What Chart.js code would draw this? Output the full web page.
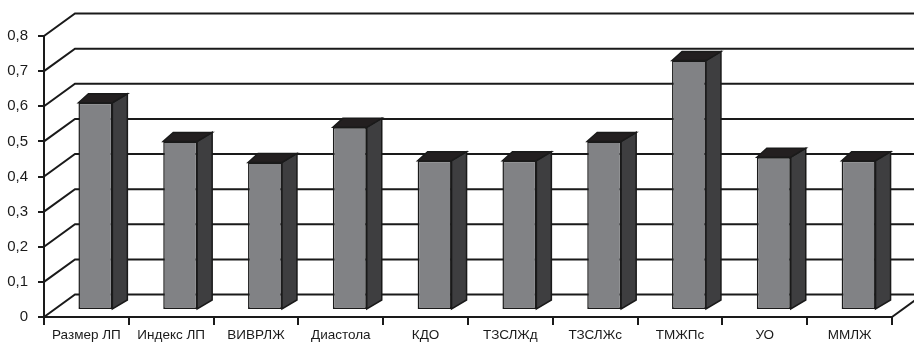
<!DOCTYPE html>
<html>
<head>
<meta charset="utf-8">
<script src="https://cdn.jsdelivr.net/npm/chart.js@4"></script>
<style>
  html, body { margin: 0; padding: 0; background: #ffffff; }
  #c { display: block; }
</style>
</head>
<body>
<canvas id="c" width="914" height="348"></canvas>
<script>
// Indicators and their values
const categories = ['Размер ЛП', 'Индекс ЛП', 'ВИВРЛЖ', 'Диастола', 'КДО', 'ТЗСЛЖд', 'ТЗСЛЖс', 'ТМЖПс', 'УО', 'ММЛЖ'];
const values = [0.59, 0.48, 0.42, 0.52, 0.425, 0.425, 0.48, 0.71, 0.435, 0.425];
const yMin = 0;
const yMax = 0.8;
const yStep = 0.1;

// 3D look: back wall offset, bar position inside the box, bar depth
const WALL_DX = 31, WALL_DY = -22.5;
const BAR_DX = 9, BAR_DY = -7;
const TOP_DX_L = 10, TOP_DX_R = 15, TOP_DY = -9;
const LINE = '#1a1a1a';

const box3d = {
  id: 'box3d',
  beforeDatasetsDraw(chart) {
    const { ctx, chartArea: a, scales: { y } } = chart;
    ctx.save();
    ctx.strokeStyle = LINE;
    ctx.lineWidth = 2;
    ctx.lineCap = 'butt';
    y.ticks.forEach(t => {
      const py = y.getPixelForValue(t.value);
      ctx.beginPath();
      ctx.moveTo(a.left, py);
      ctx.lineTo(a.left + WALL_DX, py + WALL_DY);
      ctx.lineTo(chart.width + 5, py + WALL_DY);
      ctx.stroke();
    });
    // right edge of the floor
    const p0 = y.getPixelForValue(0);
    ctx.beginPath();
    ctx.moveTo(a.right, p0);
    ctx.lineTo(a.right + WALL_DX, p0 + WALL_DY);
    ctx.stroke();
    ctx.restore();

    // front faces of the columns sit inside the box
    ctx.save();
    ctx.translate(BAR_DX, BAR_DY);
  },
  afterDatasetsDraw(chart) {
    const { ctx } = chart;
    ctx.restore();
    const meta = chart.getDatasetMeta(0);
    ctx.save();
    ctx.lineWidth = 1.5;
    ctx.strokeStyle = LINE;
    ctx.lineJoin = 'miter';
    meta.data.forEach(bar => {
      const p = bar.getProps(['x', 'y', 'base', 'width'], true);
      const xl = p.x - p.width / 2 + BAR_DX;
      const xr = p.x + p.width / 2 + BAR_DX;
      const yt = p.y + BAR_DY;
      const yb = p.base + BAR_DY;
      // side face
      ctx.beginPath();
      ctx.moveTo(xr, yt);
      ctx.lineTo(xr + TOP_DX_R, yt + TOP_DY);
      ctx.lineTo(xr + TOP_DX_R, yb + TOP_DY);
      ctx.lineTo(xr, yb);
      ctx.closePath();
      ctx.fillStyle = '#3e3e40';
      ctx.fill();
      ctx.stroke();
      // top face
      ctx.beginPath();
      ctx.moveTo(xl, yt);
      ctx.lineTo(xl + TOP_DX_L, yt + TOP_DY);
      ctx.lineTo(xr + TOP_DX_R, yt + TOP_DY);
      ctx.lineTo(xr, yt);
      ctx.closePath();
      ctx.fillStyle = '#231f20';
      ctx.fill();
      ctx.stroke();
    });
    ctx.restore();
  }
};

new Chart(document.getElementById('c'), {
  type: 'bar',
  data: {
    labels: categories,
    datasets: [{
      data: values,
      backgroundColor: '#818285',
      borderColor: LINE,
      borderWidth: 1.5,
      borderSkipped: false,
      barPercentage: 0.4,
      categoryPercentage: 1.0
    }]
  },
  options: {
    responsive: false,
    animation: false,
    layout: { padding: { top: 36, right: 22, left: 0, bottom: 0 } },
    plugins: { legend: { display: false }, tooltip: { enabled: false } },
    scales: {
      x: {
        grid: { display: true, drawOnChartArea: false, offset: true, tickLength: 8, color: LINE, lineWidth: 2 },
        border: { display: true, color: LINE, width: 2 },
        ticks: { color: '#1a1a1a', font: { family: 'Liberation Sans, Arial, sans-serif', size: 13.5 }, padding: 2, maxRotation: 0, autoSkip: false },
        afterFit(s) { s.height = 31; }
      },
      y: {
        min: yMin,
        max: yMax,
        grid: { display: true, drawOnChartArea: false, tickLength: 6, color: LINE, lineWidth: 2 },
        border: { display: true, color: LINE, width: 2 },
        ticks: {
          stepSize: yStep,
          color: '#1a1a1a',
          padding: 10,
          font: { family: 'Liberation Sans, Arial, sans-serif', size: 15 },
          callback: v => (Math.round(v * 10) / 10).toString().replace('.', ',')
        },
        afterFit(s) { s.width = 44; }
      }
    }
  },
  plugins: [box3d]
});
</script>
</body>
</html>
